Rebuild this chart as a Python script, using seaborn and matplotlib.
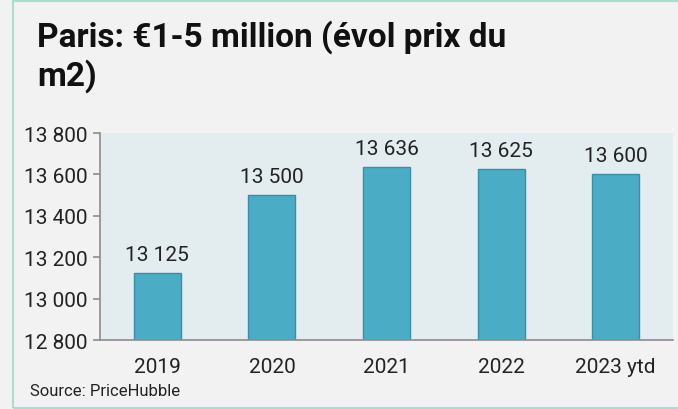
import numpy as np
import matplotlib.pyplot as plt
import pandas as pd
import seaborn as sns
from matplotlib.patches import Rectangle

# donnees
years = ["2019", "2020", "2021", "2022", "2023 ytd"]
prix_m2 = [13125, 13500, 13636, 13625, 13600]
yticks = [12800, 13000, 13200, 13400, 13600, 13800]

data = pd.DataFrame({"annee": years, "prix": prix_m2})

sns.set_style("white")
plt.rcParams['font.family'] = ['Roboto', 'DejaVu Sans']

fig = plt.figure(figsize=(6.78, 4.10), dpi=100, facecolor="#f2f2f2")
ax = fig.add_axes([0.1475, 0.168, 0.845, 0.505])
ax.set_facecolor("#e3ecee")

sns.barplot(data=data, x="annee", y="prix", color="#4bacc6", width=0.41,
            edgecolor="#3a8ea6", linewidth=1, saturation=1, ax=ax)

ax.set_ylim(12800, 13800)
ax.set_xlim(-0.5, 4.5)
ax.set_yticks(yticks)
ax.set_yticklabels([f"{t:,}".replace(",", " ") for t in yticks])

for i, v in enumerate(prix_m2):
    ax.text(i, v + 45, f"{v:,}".replace(",", " "), ha="center", va="bottom",
            fontsize=15, color="#222222")

ax.set_xlabel("")
ax.set_ylabel("")
for s in ["top", "right"]:
    ax.spines[s].set_visible(False)
for s in ["left", "bottom"]:
    ax.spines[s].set_color("#8c8c8c")
    ax.spines[s].set_linewidth(1.2)
ax.tick_params(axis="y", which="both", left=True, length=5, width=1.2,
               color="#8c8c8c", labelsize=15, labelcolor="#222222", pad=4)
ax.tick_params(axis="x", bottom=False, labelsize=15, labelcolor="#222222", pad=9)

# titre et source
fig.text(37 / 678, 1 - 20 / 410, "Paris: €1-5 million (évol prix du\nm2)",
         fontsize=24, fontweight="bold", va="top", ha="left", color="#111111",
         linespacing=1.2)
fig.text(30 / 678, 1 - 392 / 410, "Source: PriceHubble", fontsize=12,
         va="center", ha="left", color="#222222")

# cadre vert clair
fig.patches.append(Rectangle((13 / 678, 1.5 / 410), 1.2, 1 - 3 / 410,
                             transform=fig.transFigure, fill=False,
                             edgecolor="#a6dfd2", linewidth=1.5))

fig.savefig("out.png", dpi=100, facecolor=fig.get_facecolor())
